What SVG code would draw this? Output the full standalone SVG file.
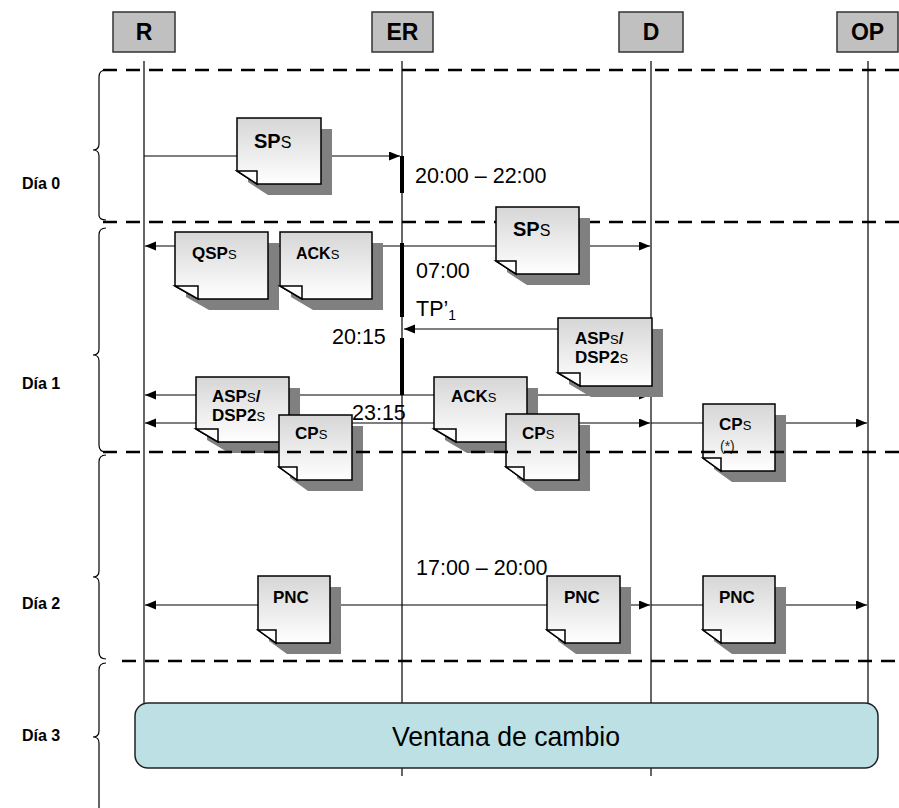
<svg xmlns="http://www.w3.org/2000/svg" width="899" height="808" viewBox="0 0 899 808">
<defs>
<linearGradient id="dg" x1="0" y1="0" x2="0" y2="1">
<stop offset="0" stop-color="#d6d6d6"/>
<stop offset="1" stop-color="#ffffff"/>
</linearGradient>
<marker id="ah" markerUnits="userSpaceOnUse" markerWidth="12" markerHeight="10" refX="11" refY="4.5" orient="auto">
<path d="M0,0 L11,4.5 L0,9 Z" fill="#000"/>
</marker>
</defs>
<style>
.hdr rect{fill:#c0c0c0;stroke:#333;stroke-width:1.5}
.hdr text{font-family:"Liberation Sans",Arial,sans-serif;font-weight:bold;font-size:23px;text-anchor:middle;fill:#000}
.life{stroke:#000;stroke-width:1.2;fill:none}
.dash{stroke:#000;stroke-width:2.5;stroke-dasharray:14 9;fill:none}
.brace{stroke:#000;stroke-width:1.2;fill:none}
.day{font-family:"Liberation Sans",Arial,sans-serif;font-weight:bold;font-size:16px;fill:#000}
.conn line{stroke:#000;stroke-width:1.2}
.bar{stroke:#000;stroke-width:4}
.lbl{font-family:"Liberation Sans",Arial,sans-serif;font-size:21.5px;fill:#000}
.shadow{fill:#808080}
.page{fill:url(#dg);stroke:#000;stroke-width:1.5}
.fold{fill:#fff;stroke:#000;stroke-width:1.5}
.dt{font-family:"Liberation Sans",Arial,sans-serif;font-weight:bold;font-size:17px;fill:#000}
.sm{font-weight:normal;font-size:13px}
.big{font-size:20px}
.big .sm{font-size:16px}
</style>
<rect width="899" height="808" fill="#fff"/>

<g id="lifelines">
<line class="life" x1="144" y1="61" x2="144" y2="703"/>
<line class="life" x1="402" y1="61" x2="402" y2="776"/>
<line class="life" x1="651" y1="61" x2="651" y2="776"/>
<line class="life" x1="868" y1="61" x2="868" y2="703"/>
</g>

<g id="header-R" class="hdr"><rect x="113" y="12" width="62" height="40"/><text x="144" y="40">R</text></g>
<g id="header-ER" class="hdr"><rect x="372" y="12" width="61" height="40"/><text x="402.5" y="40">ER</text></g>
<g id="header-D" class="hdr"><rect x="619" y="12" width="64" height="40"/><text x="651" y="40">D</text></g>
<g id="header-OP" class="hdr"><rect x="837" y="12" width="61" height="40"/><text x="867.5" y="40">OP</text></g>

<g id="day-dividers-upper">
<line class="dash" x1="103" y1="70" x2="899" y2="70"/>
<line class="dash" x1="103" y1="222" x2="899" y2="222"/>
</g>

<g id="braces">
<path class="brace" d="M106,70 Q99,70 99,77 V144 Q99,150 93,150 Q99,150 99,156 V215 Q99,220 106,220"/>
<path class="brace" d="M106,228 Q99,228 99,235 V349 Q99,355 93,355 Q99,355 99,361 V445 Q99,452 106,452"/>
<path class="brace" d="M106,455 Q99,455 99,462 V571 Q99,577 93,577 Q99,577 99,583 V652 Q99,659 106,659"/>
<path class="brace" d="M106,663 Q99,663 99,670 V731 Q99,737 93,737 Q99,737 99,743 V808"/>
</g>
<g id="day-labels">
<text class="day" x="22" y="189">Día 0</text>
<text class="day" x="22" y="389">Día 1</text>
<text class="day" x="22" y="609">Día 2</text>
<text class="day" x="22" y="741">Día 3</text>
</g>

<g id="connectors" class="conn">
<line x1="144" y1="156" x2="400" y2="156" marker-end="url(#ah)"/>
<line x1="402" y1="246" x2="145" y2="246" marker-end="url(#ah)"/>
<line x1="402" y1="246" x2="650" y2="246" marker-end="url(#ah)"/>
<line x1="651" y1="329" x2="404" y2="329" marker-end="url(#ah)"/>
<line x1="402" y1="395" x2="145" y2="395" marker-end="url(#ah)"/>
<line x1="402" y1="395" x2="650" y2="395" marker-end="url(#ah)"/>
<line x1="402" y1="423" x2="145" y2="423" marker-end="url(#ah)"/>
<line x1="402" y1="423" x2="650" y2="423" marker-end="url(#ah)"/>
<line x1="651" y1="423" x2="867" y2="423" marker-end="url(#ah)"/>
<line x1="402" y1="605" x2="145" y2="605" marker-end="url(#ah)"/>
<line x1="402" y1="605" x2="650" y2="605" marker-end="url(#ah)"/>
<line x1="651" y1="605" x2="867" y2="605" marker-end="url(#ah)"/>
</g>

<g id="activation-bars">
<line class="bar" x1="402" y1="156" x2="402" y2="193"/>
<line class="bar" x1="402" y1="243" x2="402" y2="317"/>
<line class="bar" x1="402" y1="338" x2="402" y2="395"/>
</g>

<g id="doc-SP-d0" transform="translate(237,118)">
<path class="shadow" d="M11,11 H95 V77 H31 L11,64 Z"/>
<path class="page" d="M0,0 H84 V66 H20 L0,53 Z"/>
<path class="fold" d="M0,53 H20 V66 Z"/>
<text class="dt big" x="17" y="30">SP<tspan class="sm">S</tspan></text>
</g>

<g id="doc-SP-d1" transform="translate(496,207)">
<path class="shadow" d="M11,11 H94 V78 H31 L11,65 Z"/>
<path class="page" d="M0,0 H83 V67 H20 L0,54 Z"/>
<path class="fold" d="M0,54 H20 V67 Z"/>
<text class="dt big" x="17" y="29">SP<tspan class="sm">S</tspan></text>
</g>

<g id="doc-QSP" transform="translate(175,232)">
<path class="shadow" d="M11,11 H104 V78 H34 L11,65 Z"/>
<path class="page" d="M0,0 H93 V67 H23 L0,54 Z"/>
<path class="fold" d="M0,54 H23 V67 Z"/>
<text class="dt" x="17" y="27">QSP<tspan class="sm">S</tspan></text>
</g>

<g id="doc-ACK-1" transform="translate(280,232)">
<path class="shadow" d="M11,11 H103 V78 H33 L11,65 Z"/>
<path class="page" d="M0,0 H92 V67 H22 L0,54 Z"/>
<path class="fold" d="M0,54 H22 V67 Z"/>
<text class="dt" x="16" y="27" style="font-size:16px">ACK<tspan class="sm">S</tspan></text>
</g>

<g id="doc-ASP-right" transform="translate(558,318)">
<path class="shadow" d="M11,11 H105 V79 H33 L11,66 Z"/>
<path class="page" d="M0,0 H94 V68 H22 L0,55 Z"/>
<path class="fold" d="M0,55 H22 V68 Z"/>
<text class="dt" x="17" y="26">ASP<tspan class="sm">S</tspan>/</text>
<text class="dt" x="17" y="45">DSP2<tspan class="sm">S</tspan></text>
</g>

<g id="doc-ASP-left" transform="translate(196,377)">
<path class="shadow" d="M11,11 H104 V76 H33 L11,63 Z"/>
<path class="page" d="M0,0 H93 V65 H22 L0,52 Z"/>
<path class="fold" d="M0,52 H22 V65 Z"/>
<text class="dt" x="16" y="25">ASP<tspan class="sm">S</tspan>/</text>
<text class="dt" x="16" y="44">DSP2<tspan class="sm">S</tspan></text>
</g>

<g id="doc-CP-left" transform="translate(279,415)">
<path class="shadow" d="M11,11 H84 V76 H29 L11,63 Z"/>
<path class="page" d="M0,0 H73 V65 H18 L0,52 Z"/>
<path class="fold" d="M0,52 H18 V65 Z"/>
<text class="dt" x="16" y="24">CP<tspan class="sm">S</tspan></text>
</g>

<g id="doc-ACK-mid" transform="translate(434,377)">
<path class="shadow" d="M11,11 H104 V76 H33 L11,63 Z"/>
<path class="page" d="M0,0 H93 V65 H22 L0,52 Z"/>
<path class="fold" d="M0,52 H22 V65 Z"/>
<text class="dt" x="17" y="25">ACK<tspan class="sm">S</tspan></text>
</g>

<g id="doc-CP-mid" transform="translate(506,414)">
<path class="shadow" d="M11,11 H84 V77 H29 L11,64 Z"/>
<path class="page" d="M0,0 H73 V66 H18 L0,53 Z"/>
<path class="fold" d="M0,53 H18 V66 Z"/>
<text class="dt" x="16" y="25">CP<tspan class="sm">S</tspan></text>
</g>

<g id="doc-CP-OP" transform="translate(703,404)">
<path class="shadow" d="M11,11 H83 V78 H29 L11,65 Z"/>
<path class="page" d="M0,0 H72 V67 H18 L0,54 Z"/>
<path class="fold" d="M0,54 H18 V67 Z"/>
<text class="dt" x="16" y="26">CP<tspan class="sm">S</tspan></text>
<text x="17" y="47" style="font-family:'Liberation Sans',Arial,sans-serif;font-size:14px;fill:#222">(*)</text>
</g>

<g id="doc-PNC-1" transform="translate(258,576)">
<path class="shadow" d="M11,11 H83 V78 H29 L11,65 Z"/>
<path class="page" d="M0,0 H72 V67 H18 L0,54 Z"/>
<path class="fold" d="M0,54 H18 V67 Z"/>
<text class="dt" x="15" y="27">PNC</text>
</g>
<g id="doc-PNC-2" transform="translate(547,576)">
<path class="shadow" d="M11,11 H84 V78 H29 L11,65 Z"/>
<path class="page" d="M0,0 H73 V67 H18 L0,54 Z"/>
<path class="fold" d="M0,54 H18 V67 Z"/>
<text class="dt" x="17" y="27">PNC</text>
</g>
<g id="doc-PNC-3" transform="translate(703,576)">
<path class="shadow" d="M11,11 H83 V78 H29 L11,65 Z"/>
<path class="page" d="M0,0 H72 V67 H18 L0,54 Z"/>
<path class="fold" d="M0,54 H18 V67 Z"/>
<text class="dt" x="16" y="27">PNC</text>
</g>

<g id="time-labels">
<text class="lbl" x="415" y="183">20:00 – 22:00</text>
<text class="lbl" x="416" y="278">07:00</text>
<text class="lbl" x="416" y="316">TP’<tspan font-size="14" dy="4">1</tspan></text>
<text class="lbl" x="332" y="344">20:15</text>
<text class="lbl" x="352" y="420">23:15</text>
<text class="lbl" x="416" y="575">17:00 – 20:00</text>
</g>

<g id="day-dividers-lower">
<line class="dash" x1="103" y1="452" x2="899" y2="452"/>
<line class="dash" x1="122" y1="661" x2="899" y2="661"/>
</g>

<g id="ventana">
<rect x="135" y="703" width="743" height="65" rx="13" fill="#bde0e4" stroke="#222" stroke-width="1.5"/>
<text x="506" y="746" text-anchor="middle" textLength="228" lengthAdjust="spacingAndGlyphs" style="font-family:'Liberation Sans',Arial,sans-serif;font-size:28px;fill:#000">Ventana de cambio</text>
</g>
</svg>
